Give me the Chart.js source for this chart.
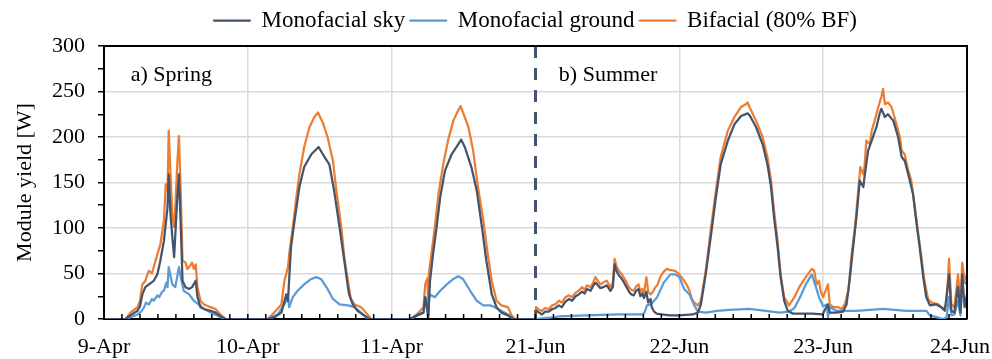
<!DOCTYPE html>
<html>
<head>
<meta charset="utf-8">
<title>Module yield</title>
<script src="https://cdn.jsdelivr.net/npm/chart.js@4.4.1/dist/chart.umd.min.js"></script>
<style>
  html, body { margin: 0; padding: 0; background: #fff; }
  #wrap { width: 992px; height: 359px; }
</style>
</head>
<body>
<div id="wrap"><canvas id="chartYield" width="992" height="359"></canvas></div>
<script>
// time axis in hours from 9-Apr 00:00, the June days are glued right after 11-Apr
const dayLabels = ['9-Apr', '10-Apr', '11-Apr', '21-Jun', '22-Jun', '23-Jun', '24-Jun'];
const dayHours = [0, 24, 48, 72, 96, 120, 144];
const dividerHour = 72;

// [hour, W] pairs
const skyApril = [
  [0,0],[3.6,0],[4.4,4],[5.6,9],[6.0,14],[6.4,27],[6.9,35],[7.5,38],[8.3,42],[8.9,49],[9.4,64],[10.0,86],[10.4,110],[10.6,123],[10.8,159],[11.1,115],[11.4,90],[11.7,68],[12.2,130],[12.5,159],[12.8,104],[13.1,42],[13.6,35],[14.2,33],[14.7,35],[15.3,42],[15.6,24],[16.1,13],[16.7,11],[17.8,9],[18.6,7],[19.4,3],[20.3,0],
  [27.3,0],[28.4,2],[29.6,7],[30.4,27],[30.7,20],[31.2,79],[31.8,108],[32.6,145],[33.4,167],[34.6,181],[35.8,189],[36.8,178],[37.6,170],[38.4,141],[39.3,101],[40.1,64],[40.7,35],[40.9,27],[41.5,16],[42.3,9],[43.4,4],[44.3,0],
  [51.1,0],[52.2,4],[53.3,7],[53.6,24],[54.1,2],[54.4,42],[54.9,71],[55.5,101],[56.1,134],[56.9,163],[58.0,181],[59.1,192],[59.6,197],[60.2,189],[61.3,167],[62.2,141],[63.0,104],[63.8,64],[64.7,27],[65.5,13],[66.3,7],[67.4,4],[68.3,0],[71.9,0]
];
const skyJune = [
  [72.1,9],[72.6,7],[73.1,5],[73.6,8],[74.2,8],[74.8,11],[75.3,12],[75.9,15],[76.4,13],[77.0,19],[77.6,22],[78.1,20],[78.7,25],[79.2,27],[79.8,30],[80.2,28],[80.6,33],[81.2,31],[81.6,36],[82.0,40],[82.4,37],[82.8,34],[83.3,35],[83.9,37],[84.5,31],[84.9,35],[85.2,60],[85.5,53],[85.9,48],[86.3,45],[86.7,41],[87.2,35],[87.6,30],[88.0,27],[88.4,26],[88.8,31],[89.2,33],[89.5,25],[89.8,28],[90.1,23],[90.5,30],[90.8,18],[91.2,22],[91.4,13],[91.8,8],[92.2,6],[93.0,5],[94.5,4],[96.0,4],[98.2,5],[99.1,7],[99.6,16],
  [100.4,49],[101.3,93],[102.1,134],[102.9,170],[104.1,196],[105.2,214],[106.3,223],[107.4,226],[107.8,223],[108.8,211],[109.9,192],[110.7,170],[111.3,145],[111.8,112],[112.4,79],[112.9,46],[113.5,20],[114.1,9],[114.9,6],[116.6,6],[118.2,6],[119.9,5],
  [120.2,9],[120.8,16],[121.1,7],[122.2,7],[123.3,8],[123.9,16],[124.4,42],[125.0,79],[125.6,115],[126.1,152],[126.7,145],[126.9,156],[127.5,185],[128.1,196],[128.9,211],[129.4,225],[129.7,231],[130.3,222],[130.8,225],[131.7,218],[132.5,200],[133.1,178],[133.6,174],[134.2,159],[135.0,137],[135.6,104],[136.1,79],[136.7,46],[137.2,24],[137.8,15],[138.9,16],[139.7,13],[140.3,9],[141.0,49],[141.4,9],[141.9,7],[142.5,35],[142.9,7],[143.2,49],[143.6,13],[144,27]
];

const groundApril = [
  [0,0],[3.6,0],[4.4,2],[5.6,5],[6.2,8],[6.7,13],[7.0,18],[7.5,16],[8.0,22],[8.3,20],[8.9,26],[9.2,24],[9.7,30],[10.0,31],[10.4,40],[10.6,35],[10.8,57],[11.4,38],[11.9,35],[12.5,57],[12.8,46],[13.3,31],[14.2,27],[15.0,20],[15.8,16],[16.7,11],[17.8,7],[18.9,4],[20.0,0],
  [27.3,0],[29.0,5],[30.1,16],[30.7,24],[30.9,13],[31.5,24],[32.3,31],[33.4,38],[34.6,44],[35.4,46],[36.2,44],[37.3,33],[38.2,22],[39.3,16],[40.7,15],[41.8,13],[42.9,7],[44.0,0],
  [51.1,0],[53.3,7],[53.6,24],[54.0,13],[54.4,27],[55.2,24],[56.1,31],[57.2,38],[58.3,44],[59.1,47],[59.9,44],[61.1,31],[62.2,20],[63.3,15],[64.4,15],[65.2,13],[66.3,9],[67.4,5],[68.3,0],[71.9,0]
];
const groundJune = [
  [72.1,0],[73.5,1],[75.3,2],[76.0,3],[80.3,4],[85.9,5],[89.8,5],[90.2,7],[90.6,15],[91.2,16],[92.3,24],[93.4,40],[94.5,49],[95.3,49],[96.0,46],[96.8,33],[97.7,27],[98.5,15],[99.1,8],
  [100.4,7],[102.3,9],[104.3,10],[107.7,11],[110.4,9],[112.7,7],[114.3,8],[115.2,12],[116.0,22],[117.1,38],[118.1,49],[118.8,35],[119.3,24],[120.0,14],
  [120.6,16],[120.8,2],[121.1,13],[122.2,9],[125.6,9],[130.0,11],[133.9,9],[137.2,9],[137.8,4],[138.9,2],[140.0,0],[140.6,2],[141.0,24],[141.4,4],[141.9,5],[142.5,20],[142.9,4],[143.3,42],[144,38]
];

const bifApril = [
  [0,0],[3.6,0],[4.4,7],[5.0,10],[5.6,13],[6.0,20],[6.4,38],[6.9,42],[7.2,48],[7.5,53],[8.0,50],[8.3,57],[8.9,71],[9.4,82],[9.7,95],[10.0,108],[10.3,148],[10.6,141],[10.8,207],[11.1,159],[11.4,115],[11.7,101],[11.9,123],[12.2,167],[12.5,201],[12.8,141],[13.1,64],[13.6,62],[13.9,55],[14.2,57],[14.7,62],[15.0,55],[15.3,60],[15.6,35],[16.1,20],[16.7,16],[17.8,13],[18.6,11],[19.4,5],[20.3,0],
  [27.3,0],[28.4,7],[29.6,16],[30.1,42],[30.7,57],[30.9,71],[31.5,101],[32.1,134],[32.6,159],[33.4,189],[34.3,211],[35.1,222],[35.7,227],[36.5,216],[37.3,200],[38.2,174],[38.7,145],[39.6,101],[40.1,68],[40.7,42],[41.2,22],[41.8,16],[42.9,13],[43.7,7],[44.6,0],
  [51.1,0],[52.2,5],[53.3,13],[53.6,38],[53.8,42],[54.0,45],[54.1,5],[54.2,50],[54.7,75],[55.2,101],[55.8,137],[56.6,170],[57.4,196],[58.3,218],[59.1,229],[59.5,234],[59.9,227],[60.8,211],[61.6,185],[62.4,145],[63.3,108],[64.1,68],[64.7,42],[65.5,20],[66.3,15],[67.4,13],[68.0,4],[68.6,0],[71.9,0]
];
const bifJune = [
  [72.1,13],[72.6,10],[73.1,9],[73.6,12],[74.2,11],[74.8,15],[75.3,16],[75.9,20],[76.4,18],[77.0,24],[77.6,26],[78.1,24],[78.7,29],[79.2,31],[79.8,35],[80.2,32],[80.6,37],[81.2,35],[81.6,40],[82.0,46],[82.4,42],[82.8,38],[83.3,40],[83.9,42],[84.5,35],[84.9,40],[85.2,66],[85.5,58],[85.9,53],[86.3,50],[86.7,46],[87.2,40],[87.6,35],[88.0,32],[88.4,31],[88.8,36],[89.2,38],[89.5,30],[89.8,33],[90.1,28],[90.5,46],[90.8,30],[91.2,27],[91.6,30],[92.0,35],[92.4,38],[92.8,46],[93.4,52],[93.9,55],[94.4,54],[95.3,53],[96.0,49],[96.8,42],[97.2,38],[97.7,31],[98.1,22],[98.5,18],[99.1,15],[99.6,20],
  [100.4,53],[101.3,101],[102.1,141],[102.9,178],[104.1,207],[105.2,222],[106.3,233],[107.1,236],[107.4,238],[107.7,233],[108.8,218],[109.9,200],[110.7,178],[111.3,152],[111.8,119],[112.4,86],[112.9,49],[113.5,24],[114.3,15],[115.2,24],[116.0,35],[117.1,46],[118.1,55],[118.5,53],[118.9,38],[119.3,42],[119.6,30],[120.0,24],
  [120.8,38],[121.1,16],[121.7,13],[122.5,13],[123.1,11],[123.6,16],[124.2,31],[124.7,68],[125.3,101],[125.8,137],[126.2,167],[126.7,159],[126.9,167],[127.2,196],[127.8,192],[128.1,207],[128.6,218],[129.2,233],[129.7,244],[130.0,253],[130.3,236],[130.8,238],[131.4,233],[131.9,222],[132.8,200],[133.1,185],[133.6,181],[134.2,163],[134.7,152],[135.3,123],[135.8,97],[136.4,68],[136.9,42],[137.5,22],[138.1,18],[139.2,16],[140.0,11],[140.6,16],[141.0,66],[141.4,16],[141.9,13],[142.5,49],[142.9,16],[143.2,62],[143.6,42],[144,49]
];

const yMax = 300;
const gridGrey = '#d9d9d9';
const serif = "'Liberation Serif', 'Times New Roman', serif";

Chart.defaults.font.family = serif;
Chart.defaults.font.size = 22;
Chart.defaults.color = '#000';

function toPoints(...parts) {
  return parts.flat().map(([h, w]) => ({ x: h, y: w }));
}

function series(label, color, points) {
  return {
    label,
    data: points,
    borderColor: color,
    backgroundColor: color,
    borderWidth: 2.25,
    pointRadius: 0,
    tension: 0,
    borderJoinStyle: 'round'
  };
}

// a little more room under the legend than Chart.js gives by default
const legendGap = {
  id: 'legendGap',
  beforeInit(chart) {
    const fit = chart.legend.fit;
    chart.legend.fit = function () {
      fit.call(this);
      this.height += 4;
    };
  }
};

// frame, inward hour ticks, day labels and panel captions
const decor = {
  id: 'decor',
  afterDraw(chart) {
    const { ctx, chartArea: a, scales: { x, y } } = chart;
    ctx.save();
    ctx.strokeStyle = '#000';
    ctx.lineWidth = 2;
    ctx.beginPath();
    ctx.moveTo(a.left, a.top);
    ctx.lineTo(a.right, a.top);
    ctx.lineTo(a.right, a.bottom);
    ctx.stroke();

    ctx.lineWidth = 1.5;
    x.ticks.forEach(t => {
      const px = x.getPixelForValue(t.value);
      ctx.beginPath();
      ctx.moveTo(px, a.bottom);
      ctx.lineTo(px, a.bottom - 5);
      ctx.stroke();
    });

    ctx.fillStyle = '#000';
    ctx.font = '22px ' + serif;
    ctx.textBaseline = 'alphabetic';
    ctx.textAlign = 'center';
    dayLabels.forEach((lbl, i) => {
      const w = ctx.measureText(lbl).width;
      let px = x.getPixelForValue(dayHours[i]);
      px = Math.min(px, chart.width - w / 2 - 2);
      ctx.fillText(lbl, px, a.bottom + 34);
    });

    ctx.textAlign = 'left';
    ctx.fillText('a) Spring', x.getPixelForValue(4.45), y.getPixelForValue(261));
    ctx.fillText('b) Summer', x.getPixelForValue(75.9), y.getPixelForValue(261));
    ctx.restore();
  }
};

new Chart(document.getElementById('chartYield'), {
  type: 'line',
  data: {
    datasets: [
      series('Monofacial sky', '#44546A', toPoints(skyApril, skyJune)),
      series('Monofacial ground', '#5B9BD5', toPoints(groundApril, groundJune)),
      series('Bifacial (80% BF)', '#ED7D31', toPoints(bifApril, bifJune)),
      {
        label: 'divider',
        data: [{ x: dividerHour, y: yMax }, { x: dividerHour, y: 0 }],
        borderColor: '#44546A',
        borderWidth: 3,
        borderDash: [12, 10],
        pointRadius: 0
      }
    ]
  },
  options: {
    responsive: false,
    animation: false,
    devicePixelRatio: 1,
    layout: { padding: { top: 4, right: 25, left: 0, bottom: 0 } },
    plugins: {
      legend: {
        position: 'top',
        fullSize: false,
        labels: {
          boxWidth: 36,
          boxHeight: 0,
          padding: 5,
          font: { size: 23 },
          filter: item => item.datasetIndex < 3
        }
      },
      tooltip: { enabled: false }
    },
    scales: {
      x: {
        type: 'linear',
        min: 0,
        max: 144,
        ticks: { display: false, stepSize: 3 },
        grid: {
          color: c => (c.tick.value % 24 === 0 && c.tick.value > 0 && c.tick.value < 144 && c.tick.value !== dividerHour) ? gridGrey : 'rgba(0,0,0,0)',
          lineWidth: 1.5,
          drawTicks: false
        },
        border: { color: '#000', width: 2 },
        afterFit: s => { s.height = 40; }
      },
      y: {
        min: 0,
        max: yMax,
        ticks: {
          stepSize: 25,
          autoSkip: false,
          padding: 13,
          callback: v => (v % 50 === 0 ? v : '')
        },
        grid: {
          color: c => (c.tick.value % 50 === 0 && c.tick.value > 0 && c.tick.value < yMax) ? gridGrey : 'rgba(0,0,0,0)',
          lineWidth: 1.5,
          tickColor: '#000',
          tickLength: 6,
          tickWidth: 1.5
        },
        border: { color: '#000', width: 2 },
        title: {
          display: true,
          text: 'Module yield [W]',
          font: { size: 22 },
          padding: { top: 12, bottom: 0 }
        },
        afterFit: s => { s.width = 104; }
      }
    }
  },
  plugins: [legendGap, decor]
});
</script>
</body>
</html>
